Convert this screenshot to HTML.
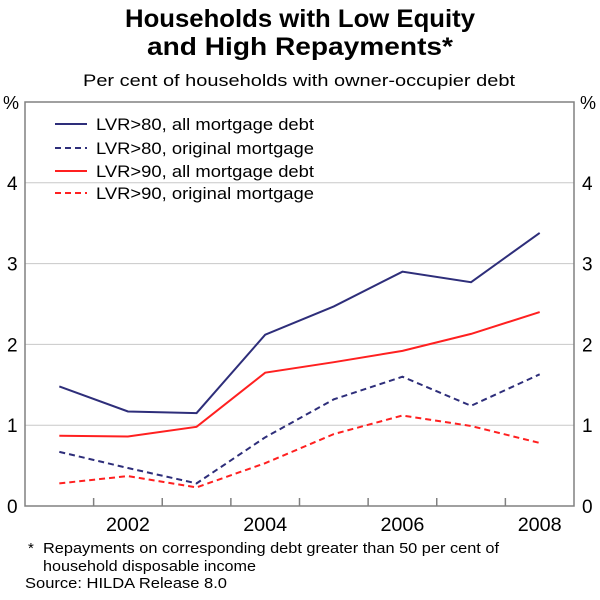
<!DOCTYPE html>
<html><head><meta charset="utf-8"><style>
body{margin:0;background:#fff;width:600px;height:595px;overflow:hidden;font-family:"Liberation Sans",Arial,sans-serif}
svg text{font-family:"Liberation Sans",Arial,sans-serif}
</style></head><body>
<svg id="chart" width="600" height="595" xmlns="http://www.w3.org/2000/svg">
<text x="125" y="27" font-size="25" font-weight="bold" textLength="350" lengthAdjust="spacingAndGlyphs">Households with Low Equity</text>
<text x="147" y="55" font-size="25" font-weight="bold" textLength="306" lengthAdjust="spacingAndGlyphs">and High Repayments*</text>
<text x="83" y="86" font-size="17" textLength="432" lengthAdjust="spacingAndGlyphs">Per cent of households with owner-occupier debt</text>
<g id="grid"></g><g id="series"></g><g id="axes"></g>
<g>
<line x1="55" y1="124" x2="87" y2="124" stroke="#2e2e7a" stroke-width="2"/>
<text x="96" y="130" font-size="17" textLength="218" lengthAdjust="spacingAndGlyphs">LVR&gt;80, all mortgage debt</text>
<line x1="55" y1="148" x2="87" y2="148" stroke="#2e2e7a" stroke-width="2" stroke-dasharray="6,4"/>
<text x="96" y="154" font-size="17" textLength="218" lengthAdjust="spacingAndGlyphs">LVR&gt;80, original mortgage</text>
<line x1="55" y1="171" x2="87" y2="171" stroke="#ff2020" stroke-width="2"/>
<text x="96" y="177" font-size="17" textLength="218" lengthAdjust="spacingAndGlyphs">LVR&gt;90, all mortgage debt</text>
<line x1="55" y1="193" x2="87" y2="193" stroke="#ff2020" stroke-width="2" stroke-dasharray="6,4"/>
<text x="96" y="199" font-size="17" textLength="218" lengthAdjust="spacingAndGlyphs">LVR&gt;90, original mortgage</text>
</g>
<text x="28" y="553" font-size="15">*</text>
<text x="43" y="553" font-size="15" textLength="456" lengthAdjust="spacingAndGlyphs">Repayments on corresponding debt greater than 50 per cent of</text>
<text x="43" y="571" font-size="15" textLength="213" lengthAdjust="spacingAndGlyphs">household disposable income</text>
<text x="25" y="588" font-size="15" textLength="202" lengthAdjust="spacingAndGlyphs">Source: HILDA Release 8.0</text>
</svg>
<script>
const years=[2001,2002,2003,2004,2005,2006,2007,2008];
const lvr80All=[1.48,1.17,1.15,2.12,2.47,2.90,2.77,3.38];
const lvr80Orig=[0.67,0.47,0.28,0.85,1.32,1.60,1.24,1.63];
const lvr90All=[0.87,0.86,0.98,1.65,1.78,1.92,2.13,2.40];
const lvr90Orig=[0.28,0.37,0.23,0.53,0.89,1.12,0.99,0.78];
const yTicks=[0,1,2,3,4];
const xLabels=[2002,2004,2006,2008];
const NS="http://www.w3.org/2000/svg";
const L=25,R=574,T=102,B=506,yMax=5;
const bw=(R-L)/years.length;
function xs(yr){return L+(yr-years[0]+0.5)*bw;}
function ys(v){return B-v/yMax*(B-T);}
function mk(tag,attrs,parent){const e=document.createElementNS(NS,tag);for(const k in attrs)e.setAttribute(k,attrs[k]);parent.appendChild(e);return e;}
const grid=document.getElementById('grid'),axes=document.getElementById('axes'),ser=document.getElementById('series');
yTicks.forEach(t=>{
 if(t>0){const g=mk('line',{x1:L,x2:R,y1:ys(t),y2:ys(t),stroke:'#c8c8c8','stroke-width':1},grid);
 
 }
 const a=mk('text',{x:7,y:ys(t)+7,'font-size':19},axes);a.textContent=t;
 
 
 const b=mk('text',{x:582,y:ys(t)+7,'font-size':19},axes);b.textContent=t;
 
 
});
const pl=mk('text',{x:3,y:T+7,'font-size':18},axes);pl.textContent='%';


const pr=mk('text',{x:580,y:T+7,'font-size':18},axes);pr.textContent='%';


const frame=mk('rect',{x:L,y:T,width:R-L,height:B-T,fill:'none',stroke:'#808080','stroke-width':1.5},axes);


for(let i=1;i<years.length;i++){const x=L+i*bw;const tk=mk('line',{x1:x,x2:x,y1:B,y2:B-8,stroke:'#808080','stroke-width':1.5},axes);
 
 }
xLabels.forEach(y=>{const t=mk('text',{x:xs(y)-22,y:B+25,'font-size':19,textLength:44,lengthAdjust:'spacingAndGlyphs'},axes);t.textContent=y;
 
 });
function line(data,color,dash,name){
 const p=mk('polyline',{points:data.map((v,i)=>xs(years[i])+','+ys(v)).join(' '),fill:'none',stroke:color,'stroke-width':2,'stroke-dasharray':dash},ser);
 
 
}
line(lvr80All,'#2e2e7a','none','line-lvr80-all');
line(lvr80Orig,'#2e2e7a','6,4','line-lvr80-original');
line(lvr90All,'#ff2020','none','line-lvr90-all');
line(lvr90Orig,'#ff2020','6,4','line-lvr90-original');
</script>
</body></html>
